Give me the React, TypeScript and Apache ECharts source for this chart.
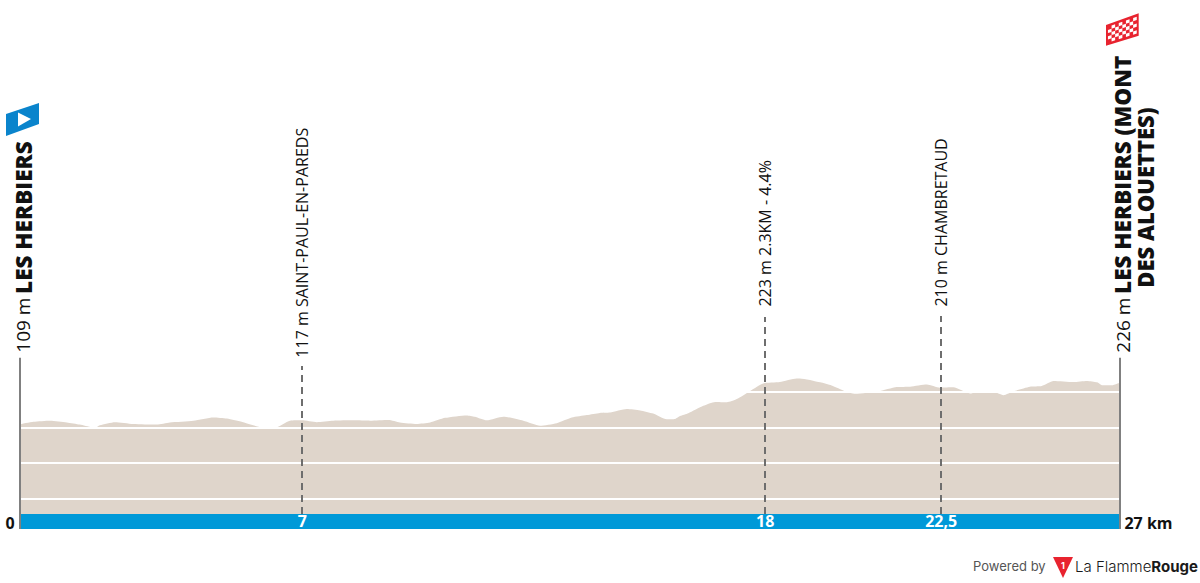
import React, { useEffect, useRef } from "react";
import * as echarts from "echarts";

const profileKm = [0,0.33,0.74,1.15,1.47,1.76,1.84,1.96,2.33,2.78,3.36,3.68,4.26,4.75,5.08,5.48,5.94,6.26,6.63,6.92,7.29,7.69,8.19,8.6,9.05,9.33,9.74,10.07,10.44,10.97,11.17,11.46,11.87,12.36,12.77,13.18,13.55,13.92,14.24,14.49,14.9,15.23,15.55,15.88,16.09,16.21,16.41,16.78,17.07,17.36,17.6,17.93,18.25,18.66,19.07,19.15,19.65,19.93,20.26,20.51,21.08,21.53,21.86,22.27,22.59,22.92,23.33,23.66,23.9,24.15,24.4,24.8,25.09,25.38,25.87,26.2,26.45,26.57,26.82,27];
const profileElevation = [109,116,119,114,108,100,98,106,115,110,108,114,119,128,125,115,100,99,119,120,115,119,120,119,121,114,110,114,127,134,130,120,130,119,105,112,128,135,141,142,152,148,139,123,124,132,140,161,172,171,180,203,224,228,238,238,227,218,202,195,202,214,215,221,212,213,196,203,201,191,202,215,217,231,228,231,227,219,219,226];
const gridLevels = [-100,0,100,200];
const waypointPositions = [6.93,18.3,22.62];
const waypointElevation = [117,223,210];
const waypointNames = ["SAINT-PAUL-EN-PAREDS","2.3KM - 4.4%","CHAMBRETAUD"];
const waypointTickLabels = ["7","18","22,5"];
const startName = "LES HERBIERS";
const startElevation = 109;
const finishNameLines = ["LES HERBIERS (MONT","DES ALOUETTES)"];
const finishElevation = 226;
const totalKm = 27;

// Vertical layout of the axis, in metres on the value scale
const Y_MIN = -186, Y_MAX = 1304, BASE = -144, BAND_MID = -163;
const leaderTops = [273, 411, 414];
const labelAnchors = [298, 442, 442];
const END_TOP = 296;
const END_LABEL = 312;

const FONT = "'Open Sans', sans-serif";
const INK = "#111";

function checkerFlag() {
  const children: any[] = [];
  const x0 = 1106, x1 = 1138.7, yl0 = 25, yl1 = 45.7, yr0 = 13.3, yr1 = 35.7;
  const pt = (u: number, v: number) => {
    const top = yl0 + (yr0 - yl0) * u, bot = yl1 + (yr1 - yl1) * u;
    return [x0 + (x1 - x0) * u, top + (bot - top) * v];
  };
  children.push({ type: "polygon", shape: { points: [pt(0,0),pt(1,0),pt(1,1),pt(0,1)] }, style: { fill: "#e8232f" } });
  const cols = 8, rows = 5;
  for (let c = 0; c < cols; c++) for (let r = 0; r < rows; r++) {
    if ((c + r) % 2 === 0) continue;
    const u0 = 0.06 + c * 0.88 / cols, u1 = u0 + 0.88 / cols;
    const v0 = 0.12 + r * 0.76 / rows, v1 = v0 + 0.76 / rows;
    children.push({ type: "polygon", shape: { points: [pt(u0,v0),pt(u1,v0),pt(u1,v1),pt(u0,v1)] }, style: { fill: "#fff" } });
  }
  return { type: "group", children };
}

export default function App() {
  const ref = useRef<HTMLDivElement>(null);
  useEffect(() => {
    document.body.style.margin = "0";
    const chart = echarts.init(ref.current!, undefined, { renderer: "svg" });
    const rich = {
      h: { fontFamily: FONT, fontSize: 16, color: INK },
      big: { fontFamily: FONT, fontSize: 19, fontWeight: 400, color: INK },
      sp: { fontFamily: FONT, fontSize: 14, color: INK },
      name: { fontFamily: FONT, fontSize: 22.5, fontWeight: 800, color: INK },
      name2: { fontFamily: FONT, fontSize: 22, fontWeight: 800, color: INK, padding: [0,0,0,65] },
    };
    const labelItem = (x: number, y: number, text: string, offset: number[]) => ({
      value: [x, y],
      label: {
        show: true, position: "top", distance: 0, rotate: 90, align: "left",
        verticalAlign: "middle", formatter: text, rich, offset,
      },
    });
    const tickItem = (x: number, text: string, color: string, offset: number[]) => ({
      value: [x, BAND_MID],
      label: {
        show: true, position: "inside", formatter: text, color, fontFamily: FONT,
        fontWeight: 700, fontSize: 16, offset, align: "center", verticalAlign: "middle",
      },
    });
    chart.setOption({
      animation: false,
      grid: { left: 20, right: 80.5, top: 0, height: 529 },
      xAxis: { type: "value", min: 0, max: totalKm, show: false },
      yAxis: { type: "value", min: Y_MIN, max: Y_MAX, show: false },
      series: [
        {
          type: "line", name: "Profile", symbol: "none", smooth: 0.2, silent: true, z: 2,
          data: profileKm.map((k, i) => [k, profileElevation[i]]),
          lineStyle: { width: 0 },
          areaStyle: { color: "#dfd5cb", opacity: 1, origin: BASE },
          markArea: {
            silent: true,
            itemStyle: { color: "#0099d8" },
            data: [[{ coord: [0, Y_MIN] }, { coord: [totalKm, BASE] }]],
          },
          markLine: {
            silent: true, symbol: "none", animation: false, label: { show: false },
            lineStyle: { color: "#fff", width: 2, type: "solid" },
            data: gridLevels.map((v) => ({ yAxis: v })),
          },
        },
        {
          type: "scatter", name: "Leaders", symbolSize: 0, silent: true, z: 5, data: [],
          markLine: {
            silent: true, symbol: "none", animation: false, label: { show: false },
            data: [
              ...waypointPositions.map((k, i) => [
                { coord: [k, BASE], lineStyle: { color: "#6e6e6e", width: 2, opacity: 1, type: [7, 5] } },
                { coord: [k, leaderTops[i]] },
              ]),
              ...[0, totalKm].map((k) => [
                { coord: [k, Y_MIN], lineStyle: { color: "#808080", width: 2, opacity: 1, type: "solid" } },
                { coord: [k, END_TOP] },
              ]),
            ],
          },
        },
        {
          type: "scatter", name: "Labels", symbolSize: 1, silent: true, z: 6,
          itemStyle: { color: "transparent", opacity: 1 },
          data: [
            ...waypointPositions.map((k, i) =>
              labelItem(k, labelAnchors[i], `{h|${waypointElevation[i]} m ${waypointNames[i]}}`, [-1, 0])),
            labelItem(0, END_LABEL, `{big|${startElevation} m}{sp| }{name|${startName}}`, [-1, 3]),
            labelItem(totalKm, END_LABEL,
              `{big|${finishElevation} m}{sp| }{name|${finishNameLines[0]}}\n{name2|${finishNameLines[1]}}`, [-1, 14]),
          ],
        },
        {
          type: "scatter", name: "Ticks", symbolSize: 1, silent: true, z: 7,
          itemStyle: { color: "transparent", opacity: 1 },
          data: [
            ...waypointPositions.map((k, i) => tickItem(k, waypointTickLabels[i], "#fff", [0, 0])),
            tickItem(0, "0", INK, [-10, 2]),
            tickItem(totalKm, `${totalKm} km`, INK, [29, 2]),
          ],
        },
      ],
      graphic: [
        { type: "polygon", shape: { points: [[6,114],[39,103],[39,124],[6,136]] }, style: { fill: "#0a84cc" } },
        { type: "polygon", shape: { points: [[18,112.5],[31,119],[18,126.5]] }, style: { fill: "#fff" } },
        checkerFlag(),
        { type: "text", x: 973, y: 566, style: { text: "Powered by", font: "13px Inter, sans-serif", fill: "#555", verticalAlign: "middle" } },
        { type: "polygon", shape: { points: [[1053,557],[1073,557],[1063,578]] }, style: { fill: "#e8232f" } },
        { type: "text", x: 1063, y: 565, style: { text: "1", font: "700 9px Inter, sans-serif", fill: "#fff", align: "center", verticalAlign: "middle" } },
        {
          type: "text", x: 1075, y: 566,
          style: {
            text: "{a|La Flamme}{b|Rouge}", verticalAlign: "middle",
            rich: {
              a: { font: "300 15px Inter, sans-serif", fill: "#1a1a1a" },
              b: { font: "700 15px Inter, sans-serif", fill: "#1a1a1a" },
            },
          },
        },
      ],
    });
    return () => chart.dispose();
  }, []);
  return <div ref={ref} style={{ position: "fixed", left: 0, top: 0, width: 1200, height: 583, background: "#fff" }} />;
}
